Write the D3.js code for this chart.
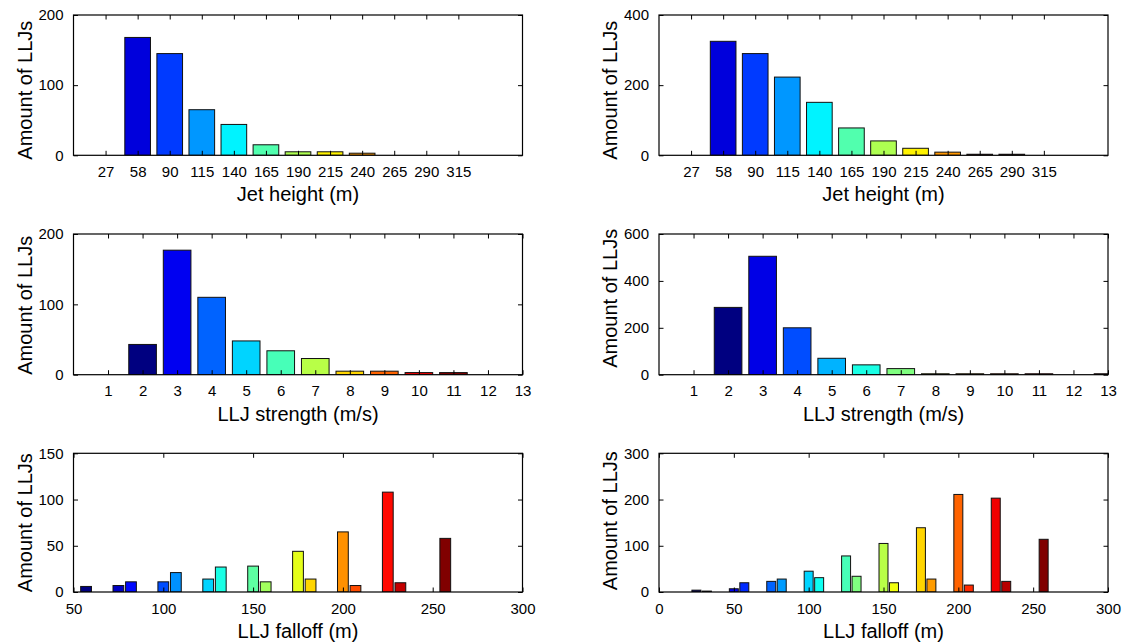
<!DOCTYPE html>
<html>
<head>
<meta charset="utf-8">
<script src="https://cdn.jsdelivr.net/npm/d3@7"></script>
<style>
  body { margin: 0; background: #fff; }
  svg { display: block; font-family: Arial, "Liberation Sans", Helvetica, sans-serif; }
</style>
</head>
<body>
<div id="my_dataviz"></div>
<script>
// ---- data ----
// jet height bins (m)
var heightBins   = [27, 58, 90, 115, 140, 165, 190, 215, 240, 265, 290, 315];
var heightLeft   = [0, 168, 145, 65, 44, 15, 5, 5, 3, 0, 0, 0];
var heightRight  = [0, 325, 290, 223, 151, 78, 41, 20, 9, 3, 3, 0];

// LLJ strength bins (m/s)
var strengthBins  = [1, 2, 3, 4, 5, 6, 7, 8, 9, 10, 11, 12, 13];
var strengthLeft  = [0, 43, 177, 110, 48, 34, 23, 5, 5, 3, 3, 0, 0];
var strengthRight = [0, 287, 505, 200, 70, 42, 26, 4, 4, 4, 4, 0, 4];

// LLJ falloff bins (m), two bars per bin
var falloffBins   = [25, 50, 75, 100, 125, 150, 175, 200, 225, 250];
var falloffLeftA  = [0, 0, 7, 11, 14, 28, 44, 65, 108, 0];
var falloffLeftB  = [0, 6, 11, 21, 27, 11, 14, 7, 10, 58];
var falloffRightA = [4, 7, 23, 45, 78, 105, 139, 211, 203, 0];
var falloffRightB = [2, 20, 28, 31, 34, 20, 28, 15, 23, 114];

// y tick values
var yTicksH1 = [0, 100, 200];
var yTicksH2 = [0, 200, 400];
var yTicksS1 = [0, 100, 200];
var yTicksS2 = [0, 200, 400, 600];
var yTicksF1 = [0, 50, 100, 150];
var yTicksF2 = [0, 100, 200, 300];
var xTicksF1 = [50, 100, 150, 200, 250, 300];
var xTicksF2 = [0, 50, 100, 150, 200, 250, 300];

// ---- layout ----
var W = 1123, H = 643;
var cols = [[73.5, 522.5], [659, 1108]];
var rows = [[15, 155.3], [234, 374.7], [453.3, 592]];
var tickLen = 4.5;

var svg = d3.select("#my_dataviz")
  .append("svg")
    .attr("width", W)
    .attr("height", H);

// matlab style jet colormap
function jet(t) {
  var c = function(v) { return Math.round(255 * Math.max(0, Math.min(1, v))); };
  return d3.rgb(c(1.5 - Math.abs(4 * t - 3)),
                c(1.5 - Math.abs(4 * t - 2)),
                c(1.5 - Math.abs(4 * t - 1))).formatHex();
}

// bars for a categorical histogram: category i sits at x = i + 1
function catBars(values, colorAll) {
  var bars = values.map(function(v, i) { return {x: i + 1, v: v, w: 0.8}; });
  var shown = bars.filter(function(b) { return b.v > 0; });
  if (colorAll) {
    bars.forEach(function(b, i) { b.color = jet(i / (bars.length - 1)); });
  } else {
    shown.forEach(function(b, i) { b.color = jet(i / (shown.length - 1)); });
  }
  return shown;
}

// bars for the falloff plot: series A at the bin, series B 7 m to the right
function falloffBars(a, b) {
  var bars = [];
  falloffBins.forEach(function(bin, i) {
    bars.push({x: bin, v: a[i], w: 6});
    bars.push({x: bin + 7, v: b[i], w: 6});
  });
  bars = bars.filter(function(d) { return d.v > 0; });
  bars.sort(function(p, q) { return p.x - q.x; });
  bars.forEach(function(d, i) { d.color = jet(i / (bars.length - 1)); });
  return bars;
}

var panels = [
  {col: 0, row: 0, xDomain: [0, 14], xTicks: d3.range(1, 13), xFormat: function(d) { return heightBins[d - 1]; },
   yDomain: [0, 200], yTicks: yTicksH1, bars: catBars(heightLeft, true), xLabel: "Jet height (m)", yShift: 5},
  {col: 1, row: 0, xDomain: [0, 14], xTicks: d3.range(1, 13), xFormat: function(d) { return heightBins[d - 1]; },
   yDomain: [0, 400], yTicks: yTicksH2, bars: catBars(heightRight, true), xLabel: "Jet height (m)", yShift: 5},
  {col: 0, row: 1, xDomain: [0, 13], xTicks: strengthBins, xFormat: function(d) { return d; },
   yDomain: [0, 200], yTicks: yTicksS1, bars: catBars(strengthLeft, false), xLabel: "LLJ strength (m/s)", yShift: 1},
  {col: 1, row: 1, xDomain: [0, 13], xTicks: strengthBins, xFormat: function(d) { return d; },
   yDomain: [0, 600], yTicks: yTicksS2, bars: catBars(strengthRight, false), xLabel: "LLJ strength (m/s)", yShift: -6},
  {col: 0, row: 2, xDomain: [50, 300], xTicks: xTicksF1, xFormat: function(d) { return d; },
   yDomain: [0, 150], yTicks: yTicksF1, bars: falloffBars(falloffLeftA, falloffLeftB), xLabel: "LLJ falloff (m)", yShift: 0},
  {col: 1, row: 2, xDomain: [0, 300], xTicks: xTicksF2, xFormat: function(d) { return d; },
   yDomain: [0, 300], yTicks: yTicksF2, bars: falloffBars(falloffRightA, falloffRightB), xLabel: "LLJ falloff (m)", yShift: -2}
];

panels.forEach(function(p, k) {
  var x0 = cols[p.col][0], x1 = cols[p.col][1];
  var y0 = rows[p.row][0], y1 = rows[p.row][1];

  var x = d3.scaleLinear().domain(p.xDomain).range([x0, x1]);
  var y = d3.scaleLinear().domain(p.yDomain).range([y1, y0]);

  var g = svg.append("g");

  g.append("clipPath")
      .attr("id", "clip" + k)
    .append("rect")
      .attr("x", x0).attr("y", y0)
      .attr("width", x1 - x0).attr("height", y1 - y0);

  // the bars
  g.append("g")
      .attr("clip-path", "url(#clip" + k + ")")
    .selectAll("rect")
    .data(p.bars)
    .enter()
    .append("rect")
      .attr("x", function(d) { return x(d.x - d.w / 2); })
      .attr("y", function(d) { return y(d.v); })
      .attr("width", function(d) { return x(d.x + d.w / 2) - x(d.x - d.w / 2); })
      .attr("height", function(d) { return y(0) - y(d.v); })
      .style("fill", function(d) { return d.color; })
      .style("stroke", "#111")
      .style("stroke-width", 1);

  // axes, ticks pointing inward like matlab
  var left = g.append("g")
      .attr("transform", "translate(" + x0 + ",0)")
      .call(d3.axisLeft(y).tickValues(p.yTicks).tickSize(-tickLen).tickPadding(10));
  var right = g.append("g")
      .attr("transform", "translate(" + x1 + ",0)")
      .call(d3.axisRight(y).tickValues(p.yTicks).tickSize(-tickLen).tickFormat(""));
  var bottom = g.append("g")
      .attr("transform", "translate(0," + y1 + ")")
      .call(d3.axisBottom(x).tickValues(p.xTicks).tickSize(-tickLen).tickPadding(11).tickFormat(p.xFormat));
  var top = g.append("g")
      .attr("transform", "translate(0," + y0 + ")")
      .call(d3.axisTop(x).tickValues(p.xTicks).tickSize(-tickLen).tickFormat(""));

  [left, right, bottom, top].forEach(function(a) {
    a.attr("font-family", null).attr("font-size", 15);
    a.select(".domain").remove();
    a.selectAll("line").style("stroke", "#000");
    a.selectAll("text").style("fill", "#000");
  });

  // box
  g.append("rect")
      .attr("x", x0).attr("y", y0)
      .attr("width", x1 - x0).attr("height", y1 - y0)
      .style("fill", "none")
      .style("stroke", "#000")
      .style("stroke-width", 1.2);

  // labels
  g.append("text")
      .attr("x", (x0 + x1) / 2)
      .attr("y", y1 + 46)
      .attr("text-anchor", "middle")
      .style("font-size", "20px")
      .text(p.xLabel);

  g.append("text")
      .attr("transform", "translate(" + (x0 - 42) + "," + ((y0 + y1) / 2 + p.yShift) + ") rotate(-90)")
      .attr("text-anchor", "middle")
      .style("font-size", "20px")
      .text("Amount of LLJs");
});
</script>
</body>
</html>
